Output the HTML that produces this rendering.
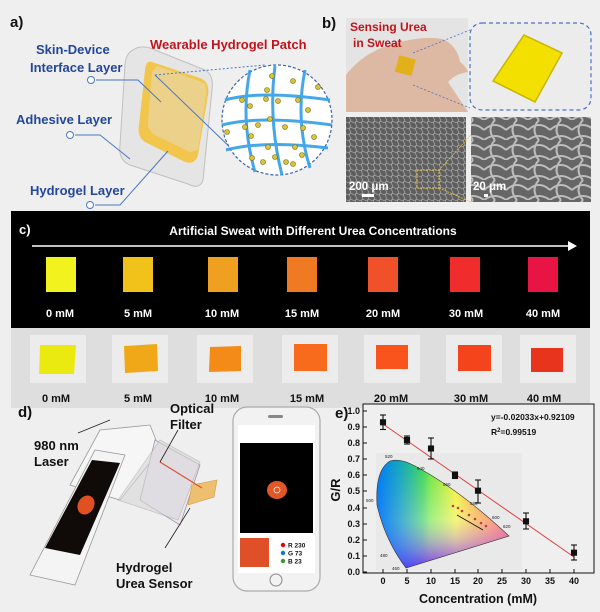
<!DOCTYPE html>
<html><head><meta charset="utf-8"><style>
html,body{margin:0;padding:0;background:#efefef;}
svg{display:block;font-family:"Liberation Sans",Arial,sans-serif;}
</style></head><body>
<svg width="600" height="612" viewBox="0 0 600 612" xmlns="http://www.w3.org/2000/svg">
<defs>
<linearGradient id="cie1" x1="0" y1="0" x2="1" y2="0">
<stop offset="0" stop-color="#00e0c0"/><stop offset="0.35" stop-color="#40e040"/><stop offset="0.6" stop-color="#f0f020"/><stop offset="1" stop-color="#ff2030"/></linearGradient>
<linearGradient id="cie2" x1="0" y1="0" x2="0" y2="1">
<stop offset="0" stop-color="#ffffff" stop-opacity="0"/><stop offset="0.55" stop-color="#ffffff" stop-opacity="0.4"/><stop offset="1" stop-color="#8020ff" stop-opacity="0.9"/></linearGradient>
<linearGradient id="cie3" x1="0" y1="0" x2="1" y2="0">
<stop offset="0" stop-color="#0060ff" stop-opacity="0.8"/><stop offset="0.4" stop-color="#0060ff" stop-opacity="0"/></linearGradient>
<pattern id="net" width="6" height="6" patternUnits="userSpaceOnUse"><rect width="6" height="6" fill="#5e5e5e"/><path d="M0 3Q3 0 6 3M3 0Q0 3 3 6" stroke="#a0a0a0" stroke-width="0.8" fill="none"/></pattern>
<pattern id="net2" width="22" height="20" patternUnits="userSpaceOnUse"><rect width="22" height="20" fill="#666"/><path d="M0 10Q11 0 22 10M11 0Q2 10 11 20M0 20 Q11 12 22 20" stroke="#bdbdbd" stroke-width="2" fill="none"/></pattern>
</defs>

<!-- Panel a -->
<text x="10" y="27" font-size="15" font-weight="bold" fill="#111">a)</text>
<text x="150" y="49" font-size="13" font-weight="bold" fill="#c0141c">Wearable Hydrogel Patch</text>
<text x="36" y="54" font-size="13" font-weight="bold" fill="#23479a">Skin-Device</text>
<text x="30" y="72" font-size="13" font-weight="bold" fill="#23479a">Interface Layer</text>
<text x="16" y="124" font-size="13" font-weight="bold" fill="#23479a">Adhesive Layer</text>
<text x="30" y="195" font-size="13" font-weight="bold" fill="#23479a">Hydrogel Layer</text>
<path d="M133,50 Q140,45 150,48 L205,70 Q214,75 212,90 L203,180 Q200,190 188,184 L130,165 Q118,160 120,145 L125,65 Q126,53 133,50Z" fill="#e4e4e4" stroke="#bbb" stroke-width="1" opacity="0.9"/>
<path d="M152,62 L200,78 Q210,82 208,95 L198,155 Q195,165 185,162 L145,142 Q137,137 139,125 L145,70 Q146,60 152,62Z" fill="#f2c64c"/>
<path d="M157,66 L202,82 Q208,85 206,95 L198,150 L190,152 L155,135 Q147,130 148,122 L152,72Z" fill="#ebd192" opacity="0.9"/>
<g stroke="#4a78c4" stroke-width="1" fill="none">
<polyline points="96,80 138,80 161,102"/><circle cx="91" cy="80" r="3.5" fill="#fff"/>
<polyline points="75,135 100,135 130,159"/><circle cx="70" cy="135" r="3.5" fill="#fff"/>
<polyline points="95,205 120,205 168,151"/><circle cx="90" cy="205" r="3.5" fill="#fff"/>
<line x1="155" y1="75" x2="265" y2="65" stroke-dasharray="2,2"/>
<line x1="155" y1="75" x2="235" y2="152"/>
</g>
<circle cx="277" cy="120" r="55" fill="#fff" stroke="#3b5fb0" stroke-width="1.2" stroke-dasharray="3,2"/>
<g stroke="#2f9ee8" stroke-width="3" fill="none" opacity="0.9">
<path d="M225,100 Q260,90 330,100"/><path d="M222,125 Q260,115 332,125"/><path d="M226,150 Q265,140 328,148"/>
<path d="M250,70 Q240,120 255,172"/><path d="M275,66 Q268,120 282,175"/><path d="M305,70 Q295,120 310,168"/>
</g>
<g fill="#d8c43a" stroke="#7a6a10" stroke-width="0.6">
<circle cx="272" cy="76" r="2.5"/><circle cx="293" cy="81" r="2.5"/><circle cx="318" cy="87" r="2.5"/><circle cx="267" cy="90" r="2.5"/><circle cx="242" cy="100" r="2.5"/><circle cx="266" cy="99" r="2.5"/><circle cx="278" cy="101" r="2.5"/><circle cx="298" cy="100" r="2.5"/><circle cx="308" cy="110" r="2.5"/><circle cx="250" cy="106" r="2.5"/><circle cx="270" cy="119" r="2.5"/><circle cx="245" cy="127" r="2.5"/><circle cx="258" cy="125" r="2.5"/><circle cx="285" cy="127" r="2.5"/><circle cx="303" cy="128" r="2.5"/><circle cx="227" cy="132" r="2.5"/><circle cx="251" cy="136" r="2.5"/><circle cx="314" cy="137" r="2.5"/><circle cx="268" cy="147" r="2.5"/><circle cx="295" cy="147" r="2.5"/><circle cx="302" cy="155" r="2.5"/><circle cx="252" cy="158" r="2.5"/><circle cx="263" cy="162" r="2.5"/><circle cx="275" cy="157" r="2.5"/><circle cx="286" cy="162" r="2.5"/><circle cx="293" cy="164" r="2.5"/>
</g>

<!-- Panel b -->
<text x="322" y="28" font-size="15" font-weight="bold" fill="#111">b)</text>
<rect x="346" y="18" width="122" height="94" fill="#e4e4e4"/>
<path d="M346,75 Q365,50 400,42 Q430,35 445,40 Q458,48 460,62 Q465,65 468,72 Q455,74 448,82 L468,112 L346,112Z" fill="#ddb8a2"/>
<rect x="397" y="57" width="17" height="17" fill="#e2b018" transform="rotate(15 405 65)"/>
<text x="350" y="31" font-size="12" font-weight="bold" fill="#c0141c">Sensing Urea</text>
<text x="353" y="47" font-size="12" font-weight="bold" fill="#c0141c">in Sweat</text>
<rect x="470" y="23" width="121" height="87" rx="12" fill="#ececec" stroke="#4a72c8" stroke-width="1.2" stroke-dasharray="4,3"/>
<polygon points="524,35 562,53 535,102 493,81" fill="#f3e000" stroke="#c8b600" stroke-width="1.5"/>
<g stroke="#4a72c8" stroke-width="0.8" stroke-dasharray="2,2"><line x1="413" y1="53" x2="470" y2="30"/><line x1="413" y1="85" x2="470" y2="108"/></g>
<rect x="346" y="117" width="120" height="85" fill="url(#net)"/>
<rect x="471" y="117" width="120" height="85" fill="url(#net2)"/>
<rect x="417" y="170" width="22" height="18" fill="none" stroke="#e8c040" stroke-width="1" stroke-dasharray="2,1"/>
<g stroke="#e8c040" stroke-width="0.8" stroke-dasharray="2,1"><line x1="439" y1="170" x2="471" y2="135"/><line x1="439" y1="188" x2="471" y2="202"/></g>
<text x="349" y="190" font-size="11.5" font-weight="bold" fill="#fff">200 μm</text>
<rect x="362" y="194" width="12" height="3" fill="#fff"/>
<text x="473" y="190" font-size="11.5" font-weight="bold" fill="#fff">20 μm</text>
<rect x="484" y="194" width="4" height="3" fill="#fff"/>

<!-- Panel c -->
<rect x="11" y="211" width="579" height="117" fill="#000"/>
<rect x="11" y="328" width="579" height="80" fill="#dedede"/>
<text x="19" y="234" font-size="13" font-weight="bold" fill="#fff">c)</text>
<text x="313" y="235" font-size="12" font-weight="bold" fill="#fff" text-anchor="middle">Artificial Sweat with Different Urea Concentrations</text>
<line x1="32" y1="246" x2="570" y2="246" stroke="#fff" stroke-width="1.5"/>
<polygon points="568,241 577,246 568,251" fill="#fff"/>
<g>
<rect x="46" y="257" width="30" height="35" fill="#f2f21e"/>
<rect x="123" y="257" width="30" height="35" fill="#f0c21a"/>
<rect x="208" y="257" width="30" height="35" fill="#f0a020"/>
<rect x="287" y="257" width="30" height="35" fill="#f07a24"/>
<rect x="368" y="257" width="30" height="35" fill="#f0502a"/>
<rect x="450" y="257" width="30" height="35" fill="#f02c2c"/>
<rect x="528" y="257" width="30" height="35" fill="#e81444"/>
</g>
<g font-size="11" font-weight="bold" fill="#fff" text-anchor="middle">
<text x="60" y="317">0 mM</text><text x="138" y="317">5 mM</text><text x="222" y="317">10 mM</text><text x="302" y="317">15 mM</text><text x="383" y="317">20 mM</text><text x="466" y="317">30 mM</text><text x="543" y="317">40 mM</text>
</g>
<g fill="#ececec">
<rect x="30" y="335" width="56" height="48"/><rect x="112" y="335" width="56" height="48"/><rect x="197" y="335" width="56" height="48"/><rect x="282" y="335" width="56" height="48"/><rect x="364" y="335" width="56" height="48"/><rect x="446" y="335" width="56" height="48"/><rect x="520" y="335" width="56" height="48"/>
</g>
<g>
<polygon points="40,345 76,345 74,374 39,374" fill="#eaea10"/>
<polygon points="124,346 157,344 158,371 125,373" fill="#f0a818"/>
<polygon points="210,347 241,346 241,371 209,372" fill="#f48a18"/>
<rect x="294" y="344" width="33" height="27" fill="#f86a1c"/>
<rect x="376" y="345" width="32" height="24" fill="#f8541c"/>
<rect x="458" y="345" width="33" height="26" fill="#f4441c"/>
<rect x="531" y="348" width="32" height="24" fill="#e8341c"/>
</g>
<g font-size="11" font-weight="bold" fill="#111" text-anchor="middle">
<text x="56" y="402">0 mM</text><text x="138" y="402">5 mM</text><text x="222" y="402">10 mM</text><text x="307" y="402">15 mM</text><text x="391" y="402">20 mM</text><text x="471" y="402">30 mM</text><text x="544" y="402">40 mM</text>
</g>

<!-- Panel d -->
<text x="18" y="417" font-size="15" font-weight="bold" fill="#111">d)</text>
<text x="34" y="450" font-size="13" font-weight="bold" fill="#111">980 nm</text>
<text x="34" y="466" font-size="13" font-weight="bold" fill="#111">Laser</text>
<text x="170" y="413" font-size="13" font-weight="bold" fill="#111">Optical</text>
<text x="170" y="429" font-size="13" font-weight="bold" fill="#111">Filter</text>
<text x="116" y="572" font-size="13" font-weight="bold" fill="#111">Hydrogel</text>
<text x="116" y="588" font-size="13" font-weight="bold" fill="#111">Urea Sensor</text>
<polygon points="100,430 150,425 160,450 120,500 70,485" fill="#f6f6f6" stroke="#999" stroke-width="0.8"/>
<polygon points="155,440 200,465 180,525 140,500" fill="#ece6f0" stroke="#999" stroke-width="0.8"/>
<polygon points="160,440 200,462 178,520 118,500" fill="#d8d8d8" stroke="#aaa" stroke-width="0.8" opacity="0.6"/>
<polygon points="95,450 125,455 75,585 30,575" fill="#f4f4f4" stroke="#999" stroke-width="0.8"/>
<polygon points="92,460 120,463 80,555 45,548" fill="#100a08"/>
<ellipse cx="86" cy="505" rx="8" ry="10" fill="#e05020" transform="rotate(30 86 505)"/>
<polygon points="192,485 217,480 214,497 188,505" fill="#efbf70" stroke="#d09a40" stroke-width="0.6"/>
<line x1="160" y1="462" x2="202" y2="488" stroke="#e05030" stroke-width="1.2"/>
<g stroke="#222" stroke-width="0.8"><line x1="110" y1="420" x2="78" y2="433"/><line x1="178" y1="430" x2="160" y2="462"/><line x1="190" y1="508" x2="165" y2="548"/></g>
<rect x="233" y="407" width="87" height="184" rx="14" fill="#f2f2f2" stroke="#aaa" stroke-width="1.2"/>
<rect x="238" y="425" width="77" height="148" fill="#fff"/>
<rect x="240" y="443" width="73" height="90" fill="#000"/>
<ellipse cx="277" cy="490" rx="10" ry="9" fill="#e05828"/>
<circle cx="277" cy="490" r="3" fill="none" stroke="#fff" stroke-width="0.7"/>
<rect x="240" y="538" width="29" height="29" fill="#e05028"/>
<circle cx="283" cy="545" r="2.2" fill="#e00"/><circle cx="283" cy="553" r="2.2" fill="#1670e0"/><circle cx="283" cy="561" r="2.2" fill="#3a9a30"/>
<g font-size="6.5" font-weight="bold" fill="#111"><text x="288" y="547.5">R 230</text><text x="288" y="555.5">G 73</text><text x="288" y="563.5">B 23</text></g>
<circle cx="276" cy="580" r="6" fill="none" stroke="#888" stroke-width="1"/>
<rect x="268" y="415" width="15" height="3" rx="1.5" fill="#888"/>

<!-- Panel e -->
<rect x="363" y="404" width="231" height="169" fill="#efefef" stroke="#111" stroke-width="1"/>
<text x="335" y="418" font-size="15" font-weight="bold" fill="#111">e)</text>
<rect x="376" y="453" width="146" height="117" fill="#e9e9e9"/>
<path d="M406,568 Q385,540 377,505 Q375,470 390,461 Q400,458 415,466 Q460,490 509,536 Z" fill="url(#cie1)"/>
<path d="M406,568 Q385,540 377,505 Q375,470 390,461 Q400,458 415,466 Q460,490 509,536 Z" fill="url(#cie2)"/>
<path d="M406,568 Q385,540 377,505 Q375,470 390,461 Q400,458 415,466 Q460,490 509,536 Z" fill="url(#cie3)" stroke="#333" stroke-width="0.6"/>
<g font-size="4.5" fill="#222"><text x="385" y="458">520</text><text x="417" y="470">540</text><text x="443" y="486">560</text><text x="470" y="505">580</text><text x="492" y="519">600</text><text x="503" y="528">620</text><text x="366" y="502">500</text><text x="380" y="557">480</text><text x="392" y="570">460</text></g>
<g fill="#c04040"><circle cx="453" cy="506" r="1.3"/><circle cx="458" cy="508" r="1.3"/><circle cx="462" cy="511" r="1.3"/><circle cx="469" cy="515" r="1.3"/><circle cx="475" cy="519" r="1.3"/><circle cx="481" cy="523" r="1.3"/><circle cx="486" cy="526" r="1.3"/></g>
<line x1="457" y1="515" x2="483" y2="530" stroke="#111" stroke-width="0.8"/>
<line x1="383" y1="424" x2="574" y2="557" stroke="#e04040" stroke-width="1"/>
<g stroke="#111" stroke-width="1.1" fill="#111">
<line x1="383" y1="415" x2="383" y2="429.5"/><line x1="380" y1="415" x2="386" y2="415"/><line x1="380" y1="429.5" x2="386" y2="429.5"/><rect x="380.5" y="419.8" width="5" height="5"/>
<line x1="407" y1="436" x2="407" y2="444"/><line x1="404" y1="436" x2="410" y2="436"/><line x1="404" y1="444" x2="410" y2="444"/><rect x="404.5" y="437.5" width="5" height="5"/>
<line x1="431" y1="438" x2="431" y2="459"/><line x1="428" y1="438" x2="434" y2="438"/><line x1="428" y1="459" x2="434" y2="459"/><rect x="428.5" y="446" width="5" height="5"/>
<line x1="455" y1="472" x2="455" y2="478.5"/><line x1="452" y1="472" x2="458" y2="472"/><line x1="452" y1="478.5" x2="458" y2="478.5"/><rect x="452.5" y="472.8" width="5" height="5"/>
<line x1="478" y1="480" x2="478" y2="503"/><line x1="475" y1="480" x2="481" y2="480"/><line x1="475" y1="503" x2="481" y2="503"/><rect x="475.5" y="488.2" width="5" height="5"/>
<line x1="526" y1="513" x2="526" y2="529"/><line x1="523" y1="513" x2="529" y2="513"/><line x1="523" y1="529" x2="529" y2="529"/><rect x="523.5" y="518.8" width="5" height="5"/>
<line x1="574" y1="545" x2="574" y2="560"/><line x1="571" y1="545" x2="577" y2="545"/><line x1="571" y1="560" x2="577" y2="560"/><rect x="571.5" y="550.2" width="5" height="5"/>
</g>
<g stroke="#111" stroke-width="1">
<line x1="363" y1="572" x2="367" y2="572"/><line x1="363" y1="556" x2="367" y2="556"/><line x1="363" y1="540" x2="367" y2="540"/><line x1="363" y1="524" x2="367" y2="524"/><line x1="363" y1="508" x2="367" y2="508"/><line x1="363" y1="491" x2="367" y2="491"/><line x1="363" y1="475" x2="367" y2="475"/><line x1="363" y1="459" x2="367" y2="459"/><line x1="363" y1="443" x2="367" y2="443"/><line x1="363" y1="427" x2="367" y2="427"/><line x1="363" y1="411" x2="367" y2="411"/>
<line x1="383" y1="573" x2="383" y2="569"/><line x1="407" y1="573" x2="407" y2="569"/><line x1="431" y1="573" x2="431" y2="569"/><line x1="455" y1="573" x2="455" y2="569"/><line x1="478" y1="573" x2="478" y2="569"/><line x1="502" y1="573" x2="502" y2="569"/><line x1="526" y1="573" x2="526" y2="569"/><line x1="550" y1="573" x2="550" y2="569"/><line x1="574" y1="573" x2="574" y2="569"/>
</g>
<g font-size="9" font-weight="bold" fill="#111" text-anchor="end">
<text x="360" y="575">0.0</text><text x="360" y="559">0.1</text><text x="360" y="543">0.2</text><text x="360" y="527">0.3</text><text x="360" y="511">0.4</text><text x="360" y="494">0.5</text><text x="360" y="478">0.6</text><text x="360" y="462">0.7</text><text x="360" y="446">0.8</text><text x="360" y="430">0.9</text><text x="360" y="414">1.0</text>
</g>
<g font-size="9" font-weight="bold" fill="#111" text-anchor="middle">
<text x="383" y="584">0</text><text x="407" y="584">5</text><text x="431" y="584">10</text><text x="455" y="584">15</text><text x="478" y="584">20</text><text x="502" y="584">25</text><text x="526" y="584">30</text><text x="550" y="584">35</text><text x="574" y="584">40</text>
</g>
<text x="478" y="603" font-size="12.5" font-weight="bold" fill="#111" text-anchor="middle">Concentration (mM)</text>
<text x="340" y="490" font-size="13" font-weight="bold" fill="#111" text-anchor="middle" transform="rotate(-90 340 490)">G/R</text>
<text x="491" y="420" font-size="8.5" font-weight="bold" fill="#111">y=-0.02033x+0.92109</text>
<text x="491" y="435" font-size="8.5" font-weight="bold" fill="#111">R<tspan font-size="6" dy="-3">2</tspan><tspan dy="3">=0.99519</tspan></text>
</svg>
</body></html>
